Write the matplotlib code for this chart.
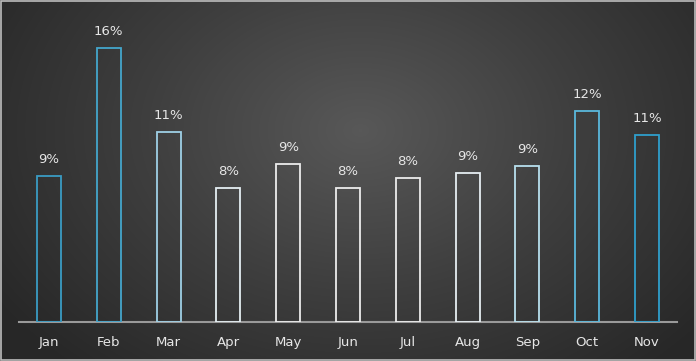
import numpy as np
import matplotlib
matplotlib.use("Agg")
import matplotlib.pyplot as plt
from matplotlib.colors import LinearSegmentedColormap

months = ["Jan", "Feb", "Mar", "Apr", "May", "Jun", "Jul", "Aug", "Sep", "Oct", "Nov"]
values = [8.5, 16.0, 11.1, 7.8, 9.2, 7.8, 8.4, 8.7, 9.1, 12.3, 10.9]
labels = ["9%", "16%", "11%", "8%", "9%", "8%", "8%", "9%", "9%", "12%", "11%"]
edge_colors = ["#3a9cc4", "#44a6cc", "#9fd0e6", "#e4eef2", "#ececec", "#ececec",
               "#ececec", "#e6eef2", "#b8e0ee", "#5ab8dc", "#2f9fcc"]

W, H = 696, 361
fig = plt.figure(figsize=(W / 100, H / 100), dpi=100)

# background radial gradient
bg = fig.add_axes([0, 0, 1, 1])
yy, xx = np.mgrid[0:H, 0:W]
cx, cy = 360, 130
r = np.sqrt(((xx - cx) / 440.0) ** 2 + ((yy - cy) / 320.0) ** 2)
r = np.clip(r, 0, 1)
cmap = LinearSegmentedColormap.from_list("bg", ["#585858", "#3e3e3e", "#272727"])
bg.imshow(r, cmap=cmap, vmin=0, vmax=1, aspect="auto", extent=[0, W, H, 0], interpolation="bilinear")
bg.set_xlim(0, W)
bg.set_ylim(H, 0)
bg.axis("off")
# border
bg.add_patch(plt.Rectangle((0.5, 0.5), W - 1.5, H - 1.5, fill=False, edgecolor="#bdbdbd", lw=1.2))

ax = fig.add_axes([19 / W, (H - 322) / H, 658 / W, 302 / H])
ax.patch.set_alpha(0)
x = np.arange(len(months))
bars = ax.bar(x, values, width=0.4, facecolor="none", edgecolor=edge_colors, linewidth=1.3, zorder=3)
for xi, v, lab in zip(x, values, labels):
    ax.text(xi, v + 0.6, lab, ha="center", va="bottom", color="#e6e6e6", fontsize=9.5)

ax.set_xlim(-0.5, len(months) - 0.5)
ax.set_ylim(0, 17.64)
for s in ["top", "right", "left"]:
    ax.spines[s].set_visible(False)
ax.spines["bottom"].set_color("#9a9a9a")
ax.spines["bottom"].set_linewidth(1.5)
ax.set_yticks([])
ax.set_xticks(x)
ax.set_xticklabels(months, color="#e6e6e6", fontsize=9.5)
ax.tick_params(axis="x", length=0, pad=10)

fig.savefig("out.png", dpi=100)
